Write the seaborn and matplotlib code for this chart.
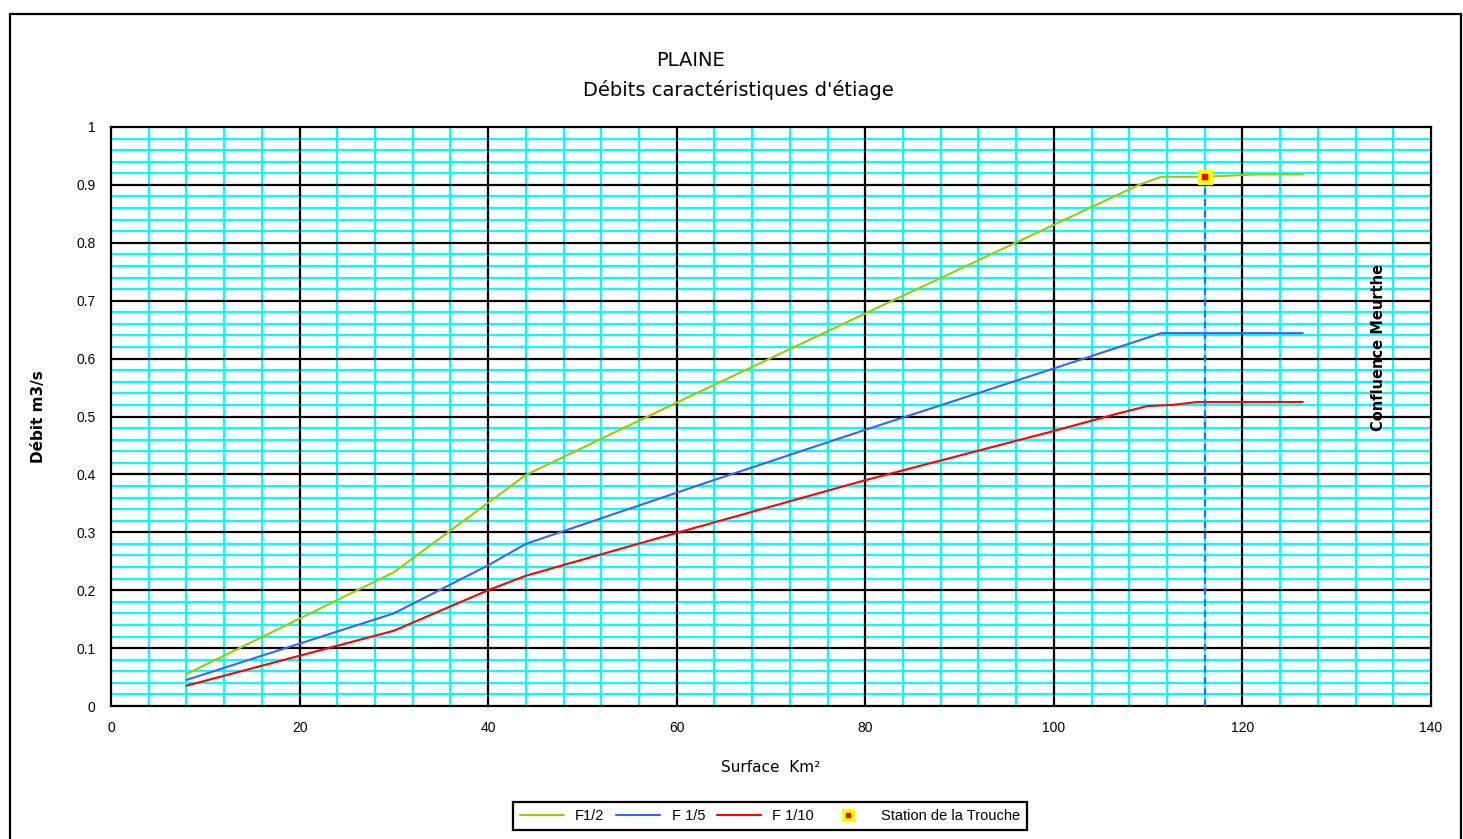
import matplotlib
matplotlib.use("Agg")
import matplotlib.pyplot as plt
import seaborn as sns
import pandas as pd
from matplotlib.patches import Rectangle
from matplotlib.lines import Line2D
from matplotlib.legend_handler import HandlerTuple

# ---- data ----
x_f12 = [8, 30, 44, 60, 80, 109, 111.4, 116, 121.3, 126.4]
y_f12 = [0.055, 0.231, 0.399, 0.524, 0.678, 0.90, 0.914, 0.914, 0.918, 0.918]

x_f15 = [8, 30, 40, 44, 63, 80, 100, 111.4, 126.4]
y_f15 = [0.045, 0.160, 0.243, 0.280, 0.385, 0.477, 0.583, 0.644, 0.644]

x_f110 = [8, 30, 40, 44, 60, 80, 100, 106.3, 109.9, 112.6, 115.2, 126.4]
y_f110 = [0.035, 0.130, 0.200, 0.225, 0.299, 0.390, 0.475, 0.503, 0.518, 0.520, 0.525, 0.525]

station_x = [116]
station_y = [0.914]

series_labels = ["F1/2", "F 1/5", "F 1/10"]
station_label = "Station de la Trouche"
title_line1 = "PLAINE"
title_line2 = "Débits caractéristiques d'étiage"
xlabel = "Surface  Km²"
ylabel = "Débit m3/s"
annot_text = "Confluence Meurthe"
x_ticks = [0, 20, 40, 60, 80, 100, 120, 140]
y_ticks = [0, 0.1, 0.2, 0.3, 0.4, 0.5, 0.6, 0.7, 0.8, 0.9, 1]

df = pd.concat([
    pd.DataFrame({"x": x_f12, "y": y_f12, "s": series_labels[0]}),
    pd.DataFrame({"x": x_f15, "y": y_f15, "s": series_labels[1]}),
    pd.DataFrame({"x": x_f110, "y": y_f110, "s": series_labels[2]}),
])

sns.set_style("white")
plt.rcParams["font.family"] = ["Liberation Sans", "DejaVu Sans"]
plt.rcParams["text.color"] = "black"
plt.rcParams["axes.labelcolor"] = "black"
plt.rcParams["xtick.color"] = "black"
plt.rcParams["ytick.color"] = "black"

W, H = 1463, 839
fig = plt.figure(figsize=(W / 100, H / 100), dpi=100)
fig.patch.set_facecolor("white")
ax = fig.add_axes([111 / W, 1 - 706 / H, (1431 - 111) / W, (706 - 127) / H])

# outer frame
fig.patches.append(Rectangle((10 / W, -0.05), (1461 - 10) / W, 1 - 14 / H + 0.05,
                             transform=fig.transFigure, fill=False,
                             edgecolor="black", lw=1.6, zorder=0))

ax.set_xlim(0, 140)
ax.set_ylim(0, 1)
ax.set_xticks(x_ticks)
ax.set_yticks(y_ticks)
ax.set_xticklabels([str(v) for v in x_ticks])
ax.set_yticklabels(["0" if v == 0 else ("1" if v == 1 else f"{v:.1f}") for v in y_ticks])
minor_x = [v for v in range(0, 141, 4) if v % 20 != 0]
minor_y = [i / 50 for i in range(51) if i % 5 != 0]
ax.set_xticks(minor_x, minor=True)
ax.set_yticks(minor_y, minor=True)
ax.grid(which="minor", color="#00FFFF", lw=1.6, zorder=0)
ax.grid(which="major", visible=False)
for v in x_ticks[1:-1]:
    ax.axvline(v, color="black", lw=1.6, zorder=1)
for v in y_ticks[1:-1]:
    ax.axhline(v, color="black", lw=1.6, zorder=1)
ax.set_axisbelow(True)
for sp in ax.spines.values():
    sp.set_color("black")
    sp.set_linewidth(1.6)
ax.tick_params(which="major", direction="out", length=5, width=1.4, color="black",
               labelsize=10, pad=6, labelcolor="black")
ax.tick_params(which="minor", length=0)

palette = {series_labels[0]: "#99CC00", series_labels[1]: "#3366FF", series_labels[2]: "#FF0000"}
sns.lineplot(data=df, x="x", y="y", hue="s", palette=palette, lw=1.5, ax=ax,
             legend=False, sort=False, estimator=None, zorder=3)

# dashed vertical from station
ax.plot([station_x[0], station_x[0]], [0, station_y[0]], color="#3366FF", lw=1.6,
        ls=(0, (3, 2)), zorder=3)
sns.scatterplot(x=station_x, y=station_y, marker="s", s=110, color="#FFFF00",
                edgecolor="#FFFF00", ax=ax, zorder=5, legend=False)
sns.scatterplot(x=station_x, y=station_y, marker="s", s=18, color="#FF0000",
                edgecolor="#FF0000", ax=ax, zorder=6, legend=False)

ax.text(134.4, 0.62, annot_text, rotation=90, ha="center", va="center", fontsize=10.5,
        family=["DejaVu Sans"], fontweight="bold", color="black", zorder=6)

ax.set_xlabel(xlabel, fontsize=11, labelpad=18, family=["DejaVu Sans"], color="black")
ax.set_ylabel(ylabel, fontsize=11, labelpad=22, family=["DejaVu Sans"], fontweight="bold",
              color="black")

fig.text(690 / W, 1 - 61 / H, title_line1, ha="center", va="center", fontsize=14,
         family=["DejaVu Sans"], color="black")
fig.text(738 / W, 1 - 90 / H, title_line2, ha="center", va="center", fontsize=14,
         family=["DejaVu Sans"], color="black")

h_lines = [Line2D([], [], color=palette[s], lw=1.5) for s in series_labels]
h_station = (Line2D([], [], marker="s", color="#FFFF00", ls="", markersize=9),
             Line2D([], [], marker="s", color="#FF0000", ls="", markersize=3.5))
leg = fig.legend(h_lines + [h_station], series_labels + [station_label],
                 handler_map={tuple: HandlerTuple(ndivide=1, pad=0)},
                 loc="center", bbox_to_anchor=(770 / W, 1 - 816 / H), ncol=4,
                 frameon=True, fancybox=False, edgecolor="black", fontsize=10.5,
                 handlelength=3.0, columnspacing=0.8, handletextpad=0.8,
                 borderpad=0.45, framealpha=1)
leg.get_frame().set_linewidth(1.6)
for t in leg.get_texts():
    t.set_color("black")

fig.savefig("out.png", dpi=100)
